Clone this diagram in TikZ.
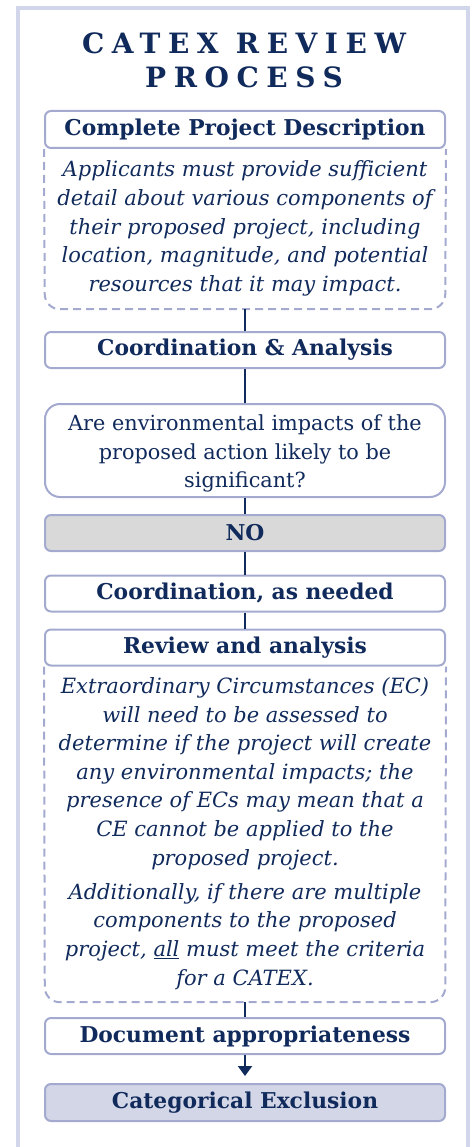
\documentclass[tikz,border=0pt]{standalone}
\usepackage{fontspec}
\setmainfont{DejaVu Serif}
\newfontfamily\titlefont[LetterSpace=27]{DejaVu Serif}
\usetikzlibrary{arrows.meta}

\definecolor{navy}{HTML}{102A5C}
\definecolor{rim}{HTML}{A4AACF}
\definecolor{framecol}{HTML}{D2D6EA}
\definecolor{nofill}{HTML}{D9D9D9}
\definecolor{cefill}{HTML}{D3D6E6}

\tikzset{
  stepbox/.style={rectangle, rounded corners=6pt, draw=rim, line width=2pt,
    fill=white, text=navy, minimum width=400pt, inner sep=0pt,
    font=\bfseries\fontsize{21.8}{26}\selectfont},
  askbox/.style={rectangle, rounded corners=15pt, draw=rim, line width=2pt,
    fill=white, text=navy, minimum width=400pt, inner sep=0pt, align=center,
    font=\fontsize{20.8}{28.6}\selectfont},
  notebox/.style={rectangle, minimum width=400pt, inner sep=0pt, align=center,
    text=navy, font=\itshape\fontsize{21}{28.6}\selectfont},
  notebrim/.style={draw=rim, line width=2pt, dash pattern=on 8pt off 5pt,
    rounded corners=15pt},
  link/.style={draw=navy, line width=2pt},
}

\begin{document}
\begin{tikzpicture}[x=1pt,y=-1pt]
\useasboundingbox (0,0) rectangle (474,1147);

% outer panel
\draw[framecol, line width=4pt] (18,1147) -- (18,8) -- (468,8) -- (468,1147);

% heading
\node[text=navy, align=center, font=\titlefont\bfseries\fontsize{28}{34}\selectfont]
  (title) at (244,60) {CATEX REVIEW\\PROCESS};

% step boxes
\node[stepbox, minimum height=37pt] (desc) at (245,129.5) {Complete Project Description};
\node[notebox, minimum height=161pt] (descnote) at (245,228.5)
  {Applicants must provide sufficient\\detail about various components of\\their proposed project, including\\location, magnitude, and potential\\resources that it may impact.};
\draw[notebrim] (desc.south west) -- (descnote.south west) -- (descnote.south east) -- (desc.south east);

\node[stepbox, minimum height=36pt] (coord) at (245,350) {Coordination \& Analysis};
\node[askbox, minimum height=93pt] (ask) at (245,450.5)
  {\rule{0pt}{22pt}Are environmental impacts of the\\proposed action likely to be\\significant?};
\node[stepbox, minimum height=36pt, fill=nofill] (no) at (245,533) {NO};
\node[stepbox, minimum height=36pt] (asneeded) at (245,593.5) {Coordination, as needed};
\node[stepbox, minimum height=36pt] (review) at (245,647.5) {Review and analysis};
\node[notebox, minimum height=337pt] (reviewnote) at (245,833.5)
  {Extraordinary Circumstances (EC)\\will need to be assessed to\\determine if the project will create\\any environmental impacts; the\\presence of ECs may mean that a\\CE cannot be applied to the\\proposed project.\\[5.5pt]
   Additionally, if there are multiple\\components to the proposed\\project, \underline{all} must meet the criteria\\for a CATEX.};
\draw[notebrim] (review.south west) -- (reviewnote.south west) -- (reviewnote.south east) -- (review.south east);

\node[stepbox, minimum height=36pt] (docapp) at (245,1036) {Document appropriateness};
\node[stepbox, minimum height=37pt, fill=cefill] (catex) at (245,1102.5) {Categorical Exclusion};

% connectors
\draw[link] (descnote.south) -- (coord.north);
\draw[link] (coord.south) -- (ask.north);
\draw[link] (ask.south) -- (no.north);
\draw[link] (no.south) -- (asneeded.north);
\draw[link] (asneeded.south) -- (review.north);
\draw[link] (reviewnote.south) -- (docapp.north);
\draw[link, -{Triangle[width=14pt,length=10pt]}, shorten >=7pt] (docapp.south) -- (catex.north);
\end{tikzpicture}
\end{document}
